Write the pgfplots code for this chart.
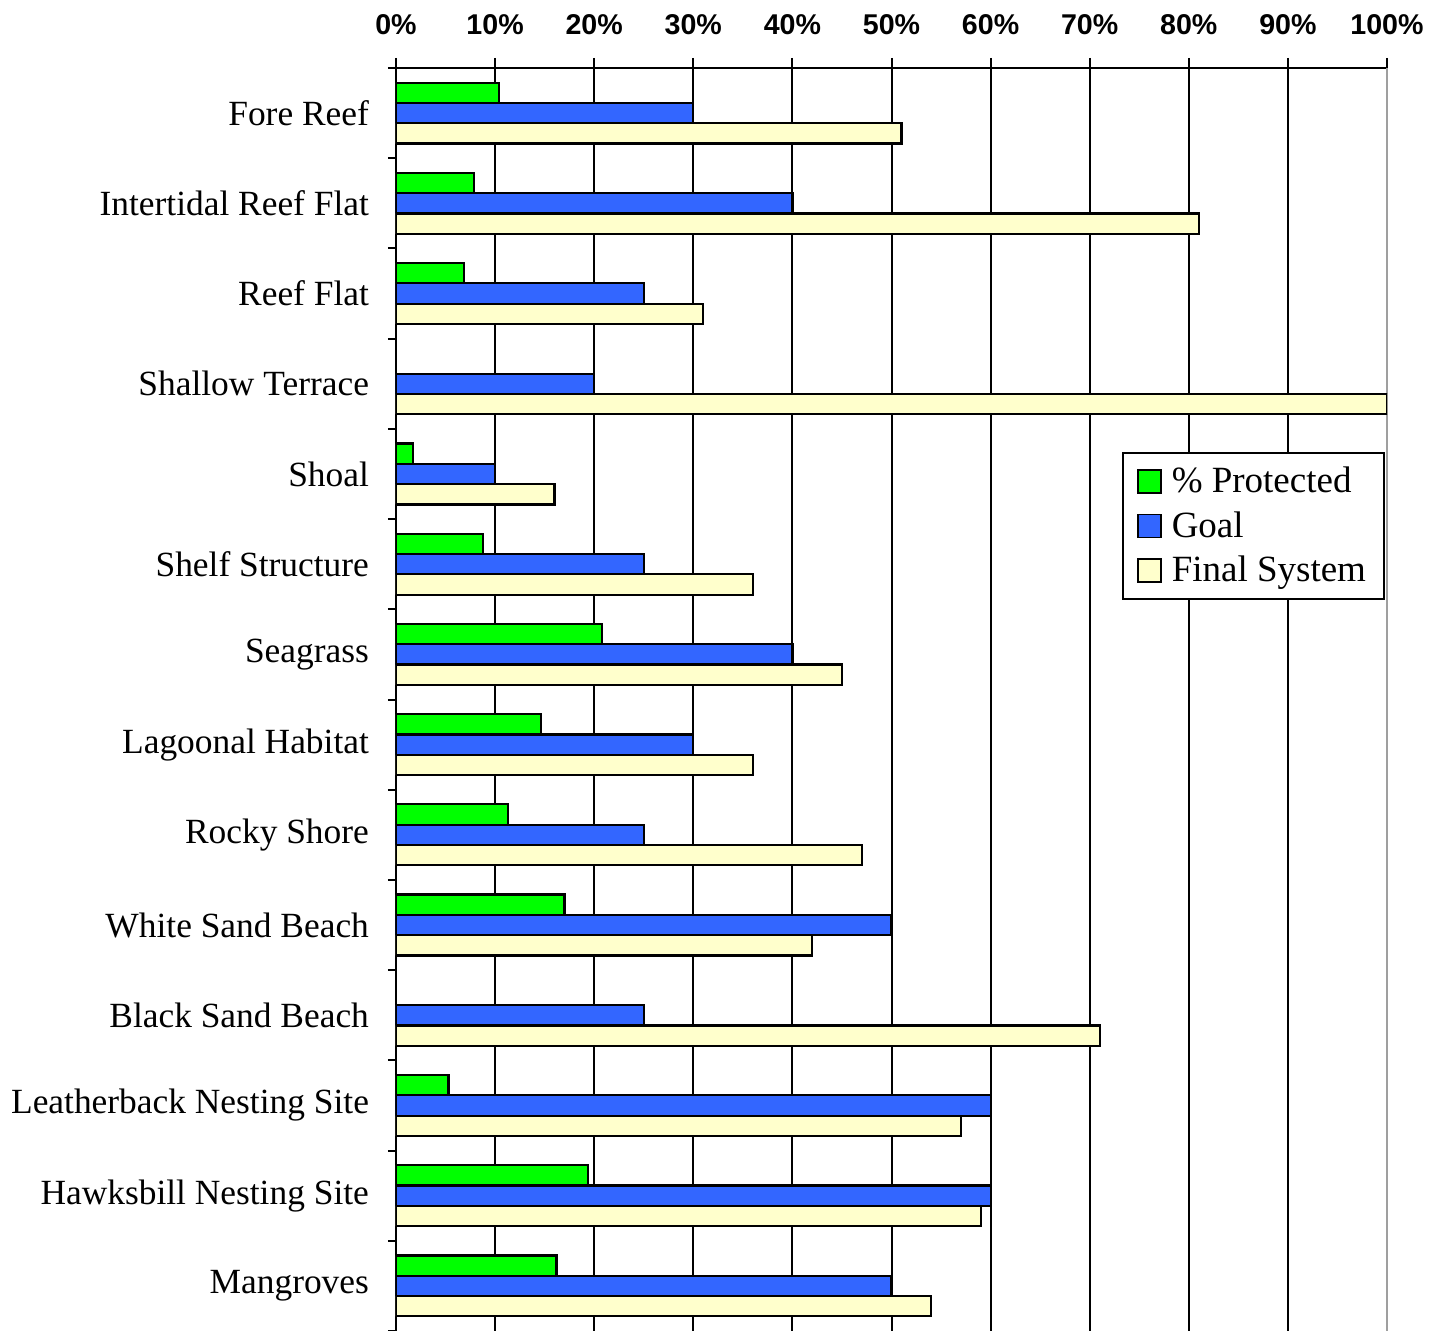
\documentclass[border=0pt]{standalone}
\usepackage{fontspec}
\setmainfont{Liberation Serif}
\newfontfamily\ticksfont{Liberation Sans}
\usepackage{pgfplots}
\pgfplotsset{compat=1.18}
\definecolor{cgreen}{HTML}{00FF00}
\definecolor{cblue}{HTML}{3366FF}
\definecolor{cyellow}{HTML}{FFFFCC}

\begin{document}
\begin{tikzpicture}
\begin{axis}[
    name=ax,
    xbar,
    scale only axis,
    width=495.5pt,
    height=631.5pt,
    xmin=0, xmax=100,
    ymin=-0.5, ymax=13.5,
    y dir=reverse,
    axis x line*=top,
    axis y line*=left,
    axis line style={line width=1pt, -},
    tick align=outside,
    tick style={black, line width=1pt},
    major tick length=5pt,
    xtick={0,10,...,90},
    xticklabels={0\%,10\%,20\%,30\%,40\%,50\%,60\%,70\%,80\%,90\%},
    extra x ticks={100},
    extra x tick labels={100\%},
    extra x tick style={major grid style={gray!75, line width=1pt}},
    xticklabel style={font=\ticksfont\bfseries\fontsize{14.3}{17}\selectfont, yshift=8pt},
    xmajorgrids,
    major grid style={black, line width=1pt},
    ytick={0,...,13},
    yticklabels={Fore Reef,Intertidal Reef Flat,Reef Flat,Shallow Terrace,Shoal,Shelf Structure,Seagrass,Lagoonal Habitat,Rocky Shore,White Sand Beach,Black Sand Beach,Leatherback Nesting Site,Hawksbill Nesting Site,Mangroves},
    yticklabel style={font=\fontsize{17.7}{21}\selectfont, xshift=-5pt},
    y tick style={draw=none},
    minor ytick={-0.5,0.5,...,13.5},
    minor y tick style={draw=black, line width=1pt},
    minor tick length=4pt,
    bar width=0.225,
    every axis plot/.append style={draw=black, line width=1.1pt},
    legend style={at={(0.998,0.696)}, anchor=north east, draw=black, line width=1pt,
        font=\fontsize{18.5}{22.5}\selectfont, inner xsep=7pt, inner ysep=5pt,
        row sep=4pt, column sep=3pt},
    legend cell align=left,
    legend image code/.code={\draw[#1, line width=0.8pt] (0pt,-5.75pt) rectangle (11.5pt,5.75pt);},
]
\addplot[fill=cgreen, bar shift=-0.225] coordinates {
    (10.4,0) (7.9,1) (6.9,2) (1.7,4) (8.8,5) (20.8,6) (14.6,7)
    (11.3,8) (17,9) (5.3,11) (19.4,12) (16.2,13)
};
\addplot[fill=cblue, bar shift=0] coordinates {
    (30,0) (40,1) (25,2) (20,3) (10,4) (25,5) (40,6) (30,7)
    (25,8) (50,9) (25,10) (60,11) (60,12) (50,13)
};
\addplot[fill=cyellow, bar shift=0.225] coordinates {
    (51,0) (81,1) (31,2) (100,3) (16,4) (36,5) (45,6) (36,7)
    (47,8) (42,9) (71,10) (57,11) (59,12) (54,13)
};
\legend{\% Protected,Goal,Final System}
\end{axis}
\pgfresetboundingbox
\path ([xshift=-198pt]ax.south west) rectangle ([xshift=28.5pt,yshift=34pt]ax.north east);
\end{tikzpicture}
\end{document}
